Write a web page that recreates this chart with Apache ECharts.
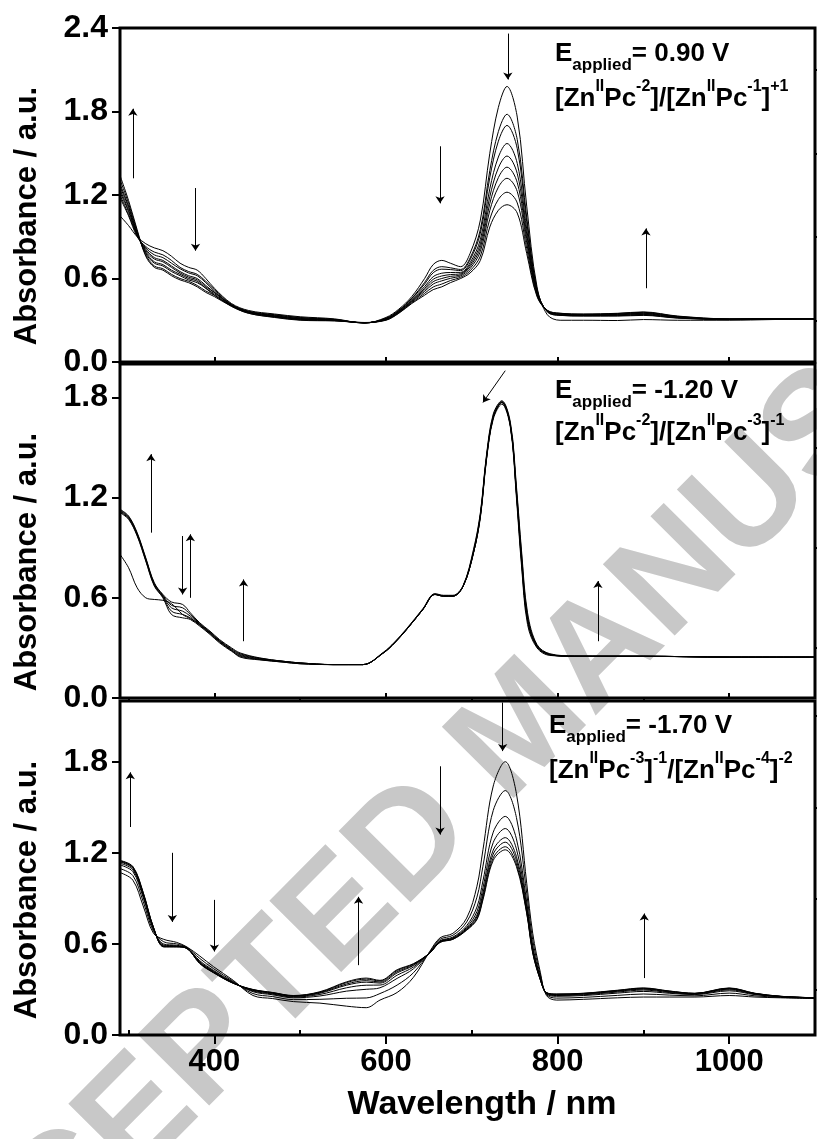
<!DOCTYPE html>
<html>
<head>
<meta charset="utf-8">
<script src="https://cdn.jsdelivr.net/npm/echarts@6.0.0/dist/echarts.min.js"></script>
<style>
  html, body { margin: 0; padding: 0; background: #fff; }
  #main { width: 817px; height: 1139px; }
</style>
</head>
<body>
<div id="main"></div>
<script>
// ---- panel 1 : E = 0.90 V ----
const wl1 = [290, 300, 310, 320, 330, 340, 350, 360, 370, 380, 390, 400, 420, 440, 470, 500, 540, 575, 600, 615, 630, 645, 655, 665, 675, 687, 698, 710, 721, 731, 741, 753, 764, 776, 788, 803, 830, 870, 900, 940, 1000, 1050, 1100];
const p1c0 = [1.05,0.98,0.90,0.85,0.82,0.80,0.76,0.71,0.68,0.66,0.60,0.53,0.42,0.37,0.345,0.325,0.31,0.28,0.32,0.38,0.47,0.60,0.70,0.73,0.71,0.685,0.78,1.02,1.50,1.83,1.98,1.76,1.12,0.54,0.34,0.30,0.30,0.298,0.305,0.30,0.30,0.305,0.31];
const p1c1 = [1.18,1.05,0.90,0.83,0.79,0.77,0.73,0.68,0.65,0.63,0.58,0.52,0.415,0.365,0.34,0.32,0.306,0.28,0.315,0.373,0.458,0.572,0.658,0.685,0.677,0.665,0.747,0.952,1.375,1.656,1.78,1.598,1.04,0.524,0.36,0.335,0.33,0.33,0.335,0.315,0.305,0.31,0.31];
const p1c2 = [1.20,1.06,0.91,0.82,0.77,0.75,0.71,0.67,0.64,0.62,0.57,0.51,0.41,0.36,0.337,0.317,0.305,0.281,0.313,0.37,0.454,0.56,0.641,0.667,0.664,0.657,0.734,0.925,1.326,1.587,1.70,1.533,1.008,0.517,0.362,0.335,0.332,0.333,0.338,0.317,0.306,0.31,0.31];
const p1c3 = [1.22,1.08,0.91,0.81,0.75,0.73,0.69,0.65,0.62,0.60,0.55,0.50,0.41,0.36,0.333,0.313,0.303,0.281,0.31,0.366,0.446,0.542,0.613,0.638,0.643,0.644,0.713,0.88,1.245,1.473,1.57,1.427,0.956,0.506,0.364,0.34,0.334,0.336,0.342,0.319,0.306,0.31,0.31];
const p1c4 = [1.24,1.09,0.92,0.80,0.74,0.72,0.68,0.64,0.61,0.59,0.54,0.50,0.41,0.36,0.33,0.31,0.301,0.282,0.308,0.362,0.441,0.529,0.594,0.618,0.628,0.635,0.698,0.849,1.188,1.395,1.48,1.354,0.92,0.499,0.365,0.34,0.336,0.339,0.346,0.321,0.307,0.31,0.31];
const p1c5 = [1.26,1.11,0.92,0.79,0.72,0.70,0.66,0.63,0.60,0.58,0.53,0.49,0.405,0.355,0.328,0.308,0.30,0.282,0.306,0.36,0.436,0.518,0.577,0.60,0.615,0.627,0.685,0.822,1.139,1.325,1.40,1.289,0.888,0.492,0.366,0.345,0.338,0.342,0.35,0.323,0.308,0.31,0.31];
const p1c6 = [1.28,1.12,0.93,0.78,0.71,0.69,0.65,0.62,0.59,0.57,0.53,0.48,0.405,0.355,0.326,0.306,0.298,0.283,0.305,0.357,0.431,0.507,0.56,0.583,0.601,0.619,0.671,0.795,1.089,1.256,1.32,1.225,0.856,0.486,0.368,0.345,0.34,0.345,0.353,0.325,0.308,0.31,0.31];
const p1c7 = [1.31,1.14,0.94,0.77,0.69,0.67,0.63,0.60,0.58,0.55,0.51,0.48,0.40,0.35,0.323,0.303,0.297,0.283,0.302,0.353,0.425,0.493,0.539,0.56,0.585,0.609,0.655,0.761,1.026,1.168,1.22,1.143,0.816,0.477,0.37,0.35,0.343,0.348,0.357,0.328,0.309,0.31,0.31];
const p1c8 = [1.34,1.16,0.95,0.76,0.68,0.66,0.62,0.59,0.57,0.54,0.50,0.47,0.40,0.35,0.32,0.30,0.295,0.284,0.30,0.35,0.42,0.48,0.52,0.54,0.57,0.60,0.64,0.73,0.97,1.09,1.13,1.07,0.78,0.47,0.372,0.35,0.345,0.35,0.36,0.33,0.31,0.31,0.31];

// ---- panel 2 : E = -1.20 V ----
const wl2 = [290, 300, 310, 320, 330, 340, 350, 363, 372, 383, 395, 406, 420, 430, 453, 480, 500, 538, 573, 597, 610, 624, 643, 657, 667, 678, 690, 702, 710, 717, 725, 735, 745, 752, 758, 765, 776, 791, 820, 900, 1000, 1100];
const p2c0 = [0.86,0.78,0.66,0.60,0.59,0.585,0.565,0.50,0.475,0.44,0.39,0.34,0.285,0.245,0.228,0.215,0.205,0.20,0.20,0.27,0.33,0.41,0.53,0.62,0.61,0.61,0.67,0.87,1.09,1.43,1.68,1.77,1.63,1.23,0.83,0.47,0.31,0.26,0.25,0.25,0.245,0.245];
const p2c1 = [1.13,1.09,0.99,0.84,0.69,0.62,0.575,0.56,0.51,0.45,0.40,0.35,0.30,0.27,0.24,0.22,0.21,0.20,0.20,0.27,0.33,0.41,0.53,0.62,0.61,0.61,0.67,0.87,1.08,1.42,1.67,1.76,1.62,1.20,0.79,0.44,0.30,0.255,0.25,0.25,0.245,0.245];
const p2c2 = [1.125,1.085,0.985,0.835,0.685,0.615,0.555,0.54,0.50,0.445,0.395,0.345,0.295,0.265,0.238,0.22,0.21,0.20,0.20,0.27,0.33,0.41,0.53,0.62,0.61,0.61,0.67,0.87,1.09,1.43,1.68,1.77,1.63,1.22,0.81,0.46,0.305,0.258,0.25,0.25,0.245,0.245];
const p2c3 = [1.12,1.08,0.98,0.83,0.68,0.61,0.54,0.52,0.49,0.44,0.39,0.34,0.29,0.26,0.235,0.22,0.21,0.20,0.20,0.27,0.33,0.41,0.53,0.62,0.61,0.61,0.67,0.87,1.09,1.43,1.68,1.77,1.63,1.23,0.83,0.47,0.31,0.26,0.25,0.25,0.245,0.245];
const p2c4 = [1.115,1.075,0.975,0.825,0.675,0.605,0.52,0.50,0.48,0.435,0.385,0.335,0.285,0.255,0.232,0.218,0.208,0.20,0.20,0.272,0.332,0.412,0.532,0.622,0.612,0.612,0.672,0.88,1.10,1.44,1.69,1.775,1.64,1.25,0.86,0.49,0.315,0.262,0.25,0.25,0.245,0.245];
const p2c5 = [1.11,1.07,0.97,0.82,0.67,0.60,0.50,0.48,0.47,0.43,0.38,0.33,0.28,0.25,0.23,0.215,0.205,0.20,0.20,0.274,0.335,0.415,0.535,0.625,0.615,0.615,0.675,0.89,1.11,1.45,1.70,1.78,1.65,1.27,0.88,0.51,0.32,0.265,0.252,0.25,0.245,0.245];

// ---- panel 3 : E = -1.70 V ----
const wl3 = [290, 305, 317, 329, 341, 356, 368, 383, 399, 422, 445, 468, 492, 523, 554, 577, 593, 613, 632, 651, 663, 678, 694, 706, 713, 725, 739, 752, 764, 771, 780, 787, 799, 830, 870, 900, 930, 960, 1000, 1030, 1060, 1100];
const p3c0 = [1.07,1.02,0.85,0.67,0.63,0.61,0.58,0.52,0.45,0.36,0.26,0.24,0.22,0.21,0.19,0.18,0.23,0.28,0.38,0.55,0.64,0.67,0.77,0.98,1.22,1.64,1.80,1.59,1.00,0.67,0.41,0.26,0.23,0.235,0.245,0.25,0.25,0.25,0.26,0.25,0.245,0.24];
const p3c1 = [1.096,1.05,0.88,0.683,0.614,0.60,0.577,0.504,0.437,0.353,0.273,0.253,0.233,0.235,0.242,0.244,0.273,0.329,0.41,0.547,0.63,0.657,0.744,0.908,1.112,1.479,1.61,1.433,0.934,0.627,0.394,0.267,0.243,0.248,0.261,0.27,0.263,0.258,0.276,0.258,0.248,0.242];
const p3c2 = [1.12,1.076,0.906,0.695,0.599,0.591,0.574,0.489,0.425,0.348,0.285,0.265,0.245,0.257,0.289,0.301,0.311,0.373,0.436,0.544,0.621,0.645,0.72,0.843,1.015,1.336,1.44,1.292,0.876,0.589,0.379,0.272,0.255,0.26,0.276,0.287,0.275,0.266,0.291,0.266,0.251,0.243];
const p3c3 = [1.131,1.088,0.918,0.70,0.592,0.587,0.572,0.482,0.42,0.345,0.29,0.27,0.25,0.267,0.311,0.328,0.329,0.394,0.448,0.542,0.617,0.64,0.709,0.813,0.97,1.268,1.36,1.226,0.848,0.571,0.372,0.275,0.26,0.265,0.283,0.296,0.28,0.269,0.298,0.269,0.253,0.244];
const p3c4 = [1.139,1.098,0.928,0.704,0.587,0.584,0.571,0.477,0.416,0.343,0.294,0.274,0.254,0.275,0.328,0.348,0.342,0.409,0.458,0.541,0.614,0.636,0.701,0.79,0.936,1.218,1.30,1.176,0.828,0.558,0.367,0.277,0.264,0.269,0.288,0.302,0.284,0.272,0.303,0.272,0.254,0.244];
const p3c5 = [1.143,1.102,0.932,0.707,0.584,0.583,0.571,0.474,0.413,0.342,0.297,0.277,0.257,0.279,0.336,0.358,0.349,0.417,0.462,0.541,0.613,0.633,0.697,0.779,0.918,1.192,1.27,1.151,0.817,0.551,0.364,0.278,0.267,0.272,0.291,0.305,0.287,0.273,0.306,0.273,0.254,0.245];
const p3c6 = [1.147,1.107,0.937,0.709,0.582,0.581,0.570,0.472,0.411,0.341,0.299,0.279,0.259,0.282,0.345,0.368,0.356,0.425,0.467,0.540,0.611,0.631,0.693,0.767,0.901,1.167,1.24,1.126,0.807,0.544,0.362,0.279,0.269,0.274,0.293,0.308,0.289,0.274,0.308,0.274,0.255,0.245];
const p3c7 = [1.15,1.11,0.94,0.71,0.58,0.58,0.57,0.47,0.41,0.34,0.30,0.28,0.26,0.285,0.35,0.375,0.36,0.43,0.47,0.54,0.61,0.63,0.69,0.76,0.89,1.15,1.22,1.11,0.80,0.54,0.36,0.28,0.27,0.275,0.295,0.31,0.29,0.275,0.31,0.275,0.255,0.245];

// tick positions
const xMajor = [400, 600, 800, 1000];
const xMinor = [300, 500, 700, 900];
const yMaxes = [2.4, 2.0, 2.2];
const yMajor = [0, 0.6, 1.2, 1.8, 2.4];
const yMinor = [0.3, 0.9, 1.5, 2.1];

// arrows drawn in the plots: [x1, y1, x2, y2] in data units
const arrows1 = [[305,1.32,305,1.82],[378,1.25,378,0.80],[663,1.55,663,1.14],[742,2.36,742,2.03],[903,0.53,903,0.96]];
const arrows2 = [[326,0.99,326,1.46],[363,0.97,363,0.62],[372,0.60,372,0.98],[434,0.34,434,0.71],[847,0.34,847,0.70],[739,1.96,713,1.77]];
const arrows3 = [[302,1.37,302,1.73],[351,1.20,351,0.745],[400,0.89,400,0.55],[568,0.46,568,0.91],[663,1.77,663,1.32],[736,2.19,736,1.87],[901,0.375,901,0.80]];

const FONT = '"Liberation Sans", Arial, Helvetica, sans-serif';

const panels = [
  { wl: wl1, curves: [p1c0,p1c1,p1c2,p1c3,p1c4,p1c5,p1c6,p1c7,p1c8], arrows: arrows1 },
  { wl: wl2, curves: [p2c0,p2c1,p2c2,p2c3,p2c4,p2c5], arrows: arrows2 },
  { wl: wl3, curves: [p3c0,p3c1,p3c2,p3c3,p3c4,p3c5,p3c6,p3c7], arrows: arrows3 }
];

const gridTops = [28, 364, 701];
const gridH = 334;

const grids = [], xAxes = [], yAxes = [], series = [];
panels.forEach((p, i) => {
  const bottom = i === 2;
  grids.push({ left: 120, right: 2, top: gridTops[i], height: gridH, show: true,
    borderColor: '#000', borderWidth: 3, backgroundColor: 'transparent' });
  // main x axis (long ticks + labels)
  xAxes.push({ gridIndex: i, type: 'value', min: 290, max: 1100,
    axisLine: { show: false },
    axisTick: { show: true, inside: !bottom, length: bottom ? 9 : 5, customValues: xMajor,
      lineStyle: { color: '#000', width: 2 } },
    axisLabel: { show: bottom, customValues: xMajor, color: '#000', fontSize: 31,
      fontWeight: 'bold', fontFamily: FONT, margin: 12, formatter: v => String(v) },
    splitLine: { show: false } });
  // minor x ticks
  xAxes.push({ gridIndex: i, type: 'value', min: 290, max: 1100,
    axisLine: { show: false },
    axisTick: { show: true, inside: !bottom, length: bottom ? 5 : 3, customValues: xMinor,
      lineStyle: { color: '#000', width: 2 } },
    axisLabel: { show: false }, splitLine: { show: false } });
  const maj = yMajor.filter(v => v <= yMaxes[i] + 1e-9);
  const mino = yMinor.filter(v => v <= yMaxes[i] + 1e-9);
  yAxes.push({ gridIndex: i, type: 'value', min: 0, max: yMaxes[i],
    axisLine: { show: false },
    axisTick: { show: true, length: 8, customValues: maj, lineStyle: { color: '#000', width: 2 } },
    axisLabel: { customValues: maj, color: '#000', fontSize: 32, fontWeight: 'bold',
      fontFamily: FONT, margin: 12, formatter: v => v.toFixed(1) },
    splitLine: { show: false } });
  yAxes.push({ gridIndex: i, type: 'value', min: 0, max: yMaxes[i],
    axisLine: { show: false },
    axisTick: { show: true, length: 5, customValues: mino, lineStyle: { color: '#000', width: 2 } },
    axisLabel: { show: false }, splitLine: { show: false } });

  p.curves.forEach((c, k) => {
    const s = {
      type: 'line', xAxisIndex: 2 * i, yAxisIndex: 2 * i,
      data: p.wl.map((x, j) => [x, c[j]]),
      symbol: 'none', smooth: 0.35, silent: true,
      lineStyle: { color: '#000', width: 1 },
      emphasis: { disabled: true }, z: 3
    };
    if (k === 0) {
      s.markLine = {
        silent: true, symbol: ['none', 'arrow'], symbolSize: 7,
        lineStyle: { color: '#000', width: 1, type: 'solid' },
        label: { show: false }, emphasis: { disabled: true },
        data: p.arrows.map(a => [{ coord: [a[0], a[1]] }, { coord: [a[2], a[3]] }])
      };
    }
    series.push(s);
  });
});

const rich = {
  b: { fontSize: 26, fontWeight: 'bold', fontFamily: FONT, color: '#000', lineHeight: 40 },
  sub: { fontSize: 17, fontWeight: 'bold', fontFamily: FONT, color: '#000', lineHeight: 17, verticalAlign: 'bottom' },
  sup: { fontSize: 16, fontWeight: 'bold', fontFamily: FONT, color: '#000', lineHeight: 22, verticalAlign: 'top' }
};
function note(x, y, text) {
  return { type: 'text', x: x, y: y, z: 10, silent: true,
    style: { text: text, rich: rich, align: 'left', verticalAlign: 'top' } };
}
function yTitle(cy) {
  return { type: 'text', x: 27, y: cy, rotation: Math.PI / 2, silent: true,
    style: { text: 'Absorbance / a.u.', font: 'bold 31px ' + FONT, fill: '#000',
      align: 'center', verticalAlign: 'middle' } };
}

const graphics = [
  // watermark
  { type: 'text', x: 524, y: 730, rotation: 0.79, z: -10, silent: true,
    style: { text: 'ACCEPTED MANUSCRIPT', font: 'bold 147px ' + FONT, fill: '#c8c8c8',
      align: 'center', verticalAlign: 'middle' } },
  yTitle(216), yTitle(562), yTitle(890),
  { type: 'text', x: 482, y: 1105, silent: true,
    style: { text: 'Wavelength / nm', font: 'bold 34px ' + FONT, fill: '#000',
      align: 'center', verticalAlign: 'middle' } },
  note(555, 34, '{b|E}{sub|applied}{b|= 0.90 V}'),
  note(555, 79, '{b|[Zn}{sup|II}{b|Pc}{sup|-2}{b|]/[Zn}{sup|II}{b|Pc}{sup|-1}{b|]}{sup|+1}'),
  note(555, 371, '{b|E}{sub|applied}{b|= -1.20 V}'),
  note(555, 413, '{b|[Zn}{sup|II}{b|Pc}{sup|-2}{b|]/[Zn}{sup|II}{b|Pc}{sup|-3}{b|]}{sup|-1}'),
  note(549, 706, '{b|E}{sub|applied}{b|= -1.70 V}'),
  note(549, 751, '{b|[Zn}{sup|II}{b|Pc}{sup|-3}{b|]}{sup|-1}{b|/[Zn}{sup|II}{b|Pc}{sup|-4}{b|]}{sup|-2}')
];

const chart = echarts.init(document.getElementById('main'), null, { renderer: 'canvas' });
chart.setOption({
  animation: false,
  backgroundColor: '#fff',
  grid: grids,
  xAxis: xAxes,
  yAxis: yAxes,
  series: series,
  graphic: { elements: graphics }
});
</script>
</body>
</html>
